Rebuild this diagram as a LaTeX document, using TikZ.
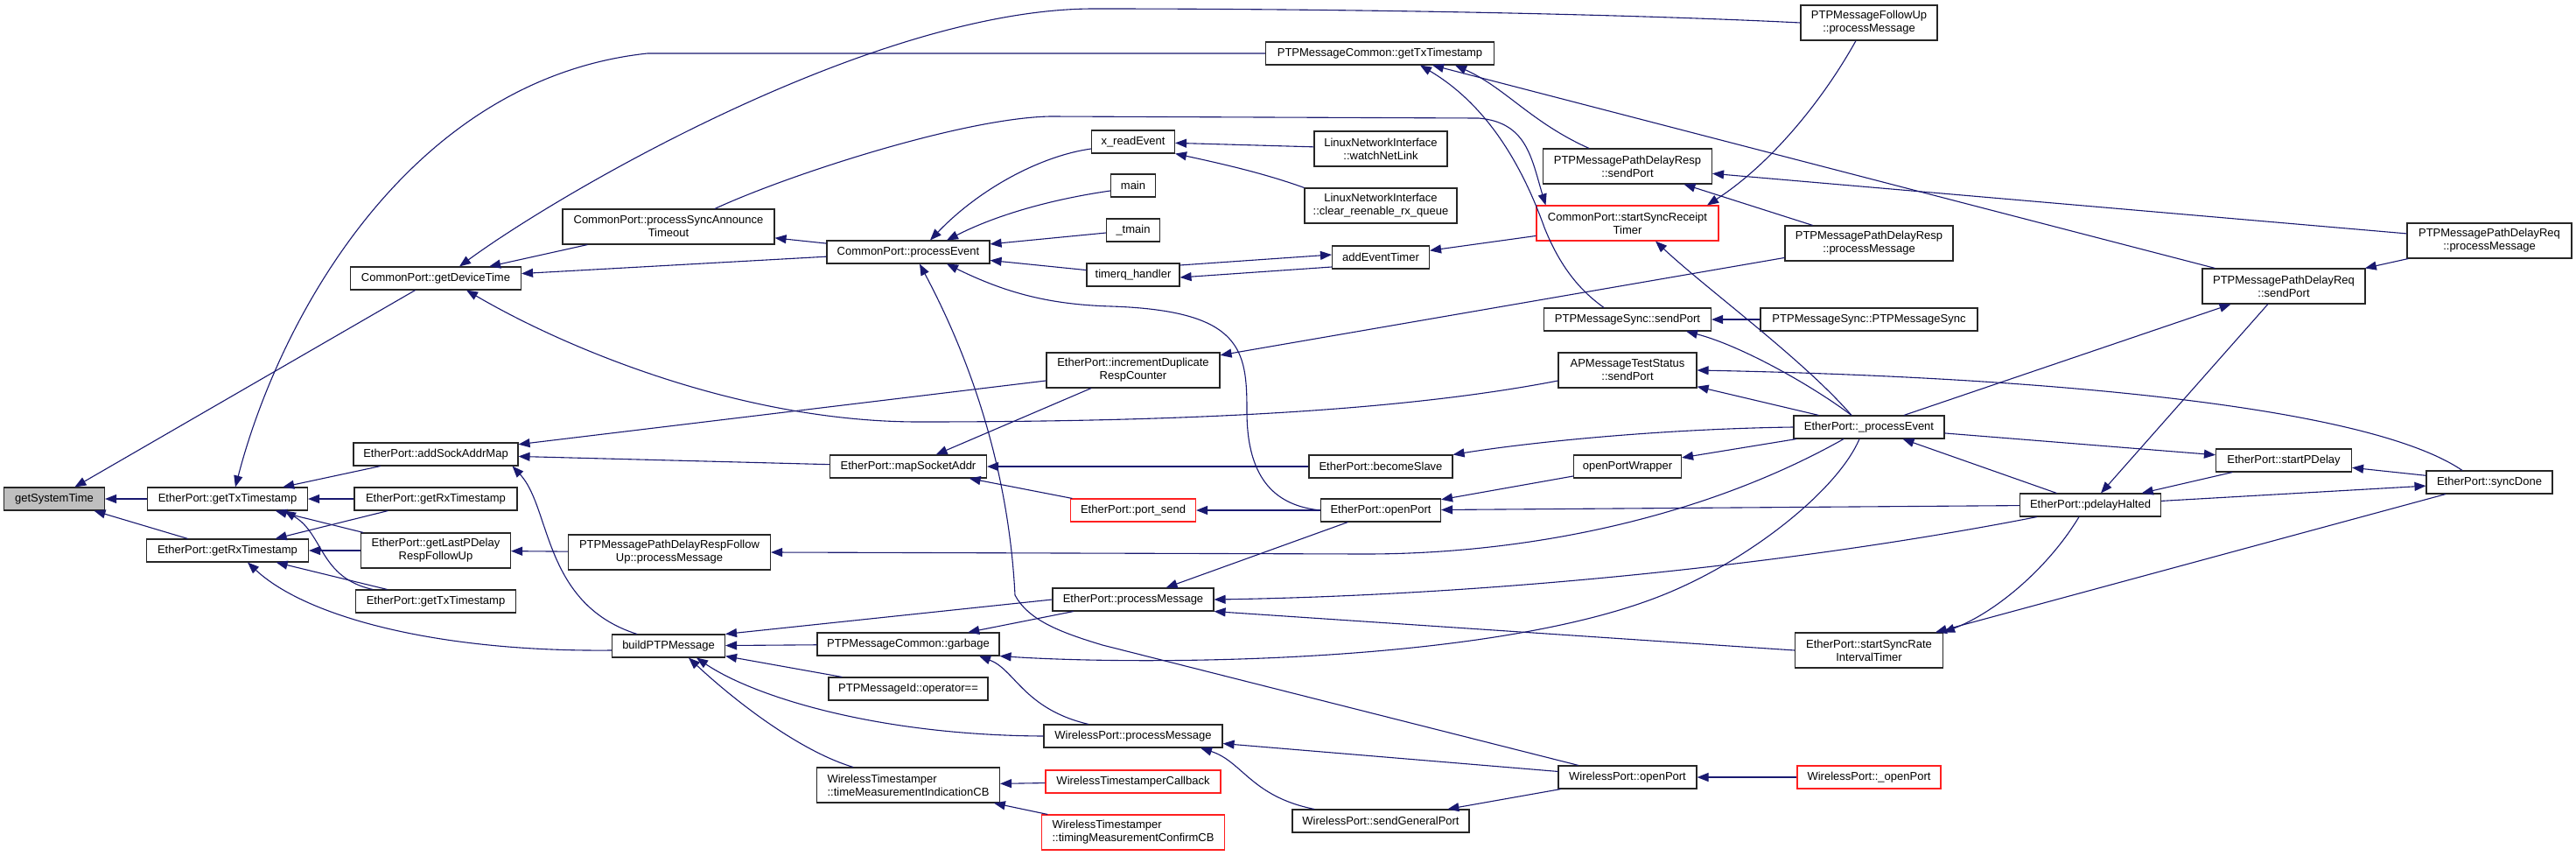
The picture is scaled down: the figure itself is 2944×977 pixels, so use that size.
\documentclass[tikz,border=0pt]{standalone}
\usepackage{fontspec}
\setmainfont{Liberation Sans}
\usetikzlibrary{arrows.meta}
\definecolor{edgec}{HTML}{191970}
\definecolor{redc}{HTML}{FF2020}
\definecolor{grayf}{HTML}{BFBFBF}
\begin{document}
\begin{tikzpicture}[x=1pt,y=-1pt,
  nd/.style={draw=black!85, line width=1.1pt, fill=white, inner sep=0pt, align=center, font=\fontsize{13}{15}\selectfont},
  rd/.style={nd, draw=redc},
  sz/.style 2 args={minimum width=#1pt, minimum height=#2pt},
  e/.style={draw=edgec, line width=1.1pt, {Triangle[length=13pt,width=10pt]}-}
]
\fill[white] (0,0) rectangle (2944,977);
\useasboundingbox (0,0) rectangle (2944,977);

\node[nd,sz={115}{26},fill=grayf] (gst) at (62,570) {getSystemTime};
\node[nd,sz={183}{26}] (eTxL) at (260,570) {EtherPort::getTxTimestamp};
\node[nd,sz={185}{26}] (eRxL) at (260,629) {EtherPort::getRxTimestamp};
\node[nd,sz={195}{26}] (gdt) at (498,318) {CommonPort::getDeviceTime};
\node[nd,sz={188}{26}] (asam) at (498,519) {EtherPort::addSockAddrMap};
\node[nd,sz={186}{26}] (eRxR) at (498,570) {EtherPort::getRxTimestamp};
\node[nd,sz={171}{40}] (glpd) at (498,629) {EtherPort::getLastPDelay\\RespFollowUp};
\node[nd,sz={183}{26}] (eTxB) at (498,687) {EtherPort::getTxTimestamp};
\node[nd,sz={242}{40}] (psat) at (764,259) {CommonPort::processSyncAnnounce\\Timeout};
\node[nd,sz={231}{40}] (pdrfu) at (765,631) {PTPMessagePathDelayRespFollow\\Up::processMessage};
\node[nd,sz={129}{26}] (bpm) at (764,738) {buildPTPMessage};
\node[nd,sz={186}{26}] (cpe) at (1038,288) {CommonPort::processEvent};
\node[nd,sz={179}{26}] (msa) at (1038,533) {EtherPort::mapSocketAddr};
\node[nd,sz={208}{26}] (garb) at (1038,736) {PTPMessageCommon::garbage};
\node[nd,sz={182}{26}] (opeq) at (1038,787) {PTPMessageId::operator==};
\node[nd,sz={209}{40},align=left] (tmic) at (1038,897) {WirelessTimestamper\\::timeMeasurementIndicationCB};
\node[nd,sz={95}{26}] (xre) at (1295,162) {x\_readEvent};
\node[nd,sz={51}{26}] (main) at (1295,212) {main};
\node[nd,sz={61}{26}] (tmain) at (1295,263) {\_tmain};
\node[nd,sz={106}{26}] (tqh) at (1295,314) {timerq\_handler};
\node[nd,sz={198}{40}] (idrc) at (1295,423) {EtherPort::incrementDuplicate\\RespCounter};
\node[rd,sz={143}{26}] (psend) at (1295,583) {EtherPort::port\_send};
\node[nd,sz={184}{26}] (epm) at (1295,685) {EtherPort::processMessage};
\node[nd,sz={204}{26}] (wpm) at (1295,841) {WirelessPort::processMessage};
\node[rd,sz={200}{26}] (wtc) at (1295,893) {WirelessTimestamperCallback};
\node[rd,sz={209}{40},align=left] (tmcc) at (1295,951) {WirelessTimestamper\\::timingMeasurementConfirmCB};
\node[nd,sz={261}{26}] (pcgt) at (1577,61) {PTPMessageCommon::getTxTimestamp};
\node[nd,sz={152}{40}] (lwnl) at (1578,170) {LinuxNetworkInterface\\::watchNetLink};
\node[nd,sz={174}{40}] (lcrr) at (1578,235) {LinuxNetworkInterface\\::clear\_reenable\_rx\_queue};
\node[nd,sz={111}{26}] (aet) at (1578,294) {addEventTimer};
\node[nd,sz={164}{26}] (bslv) at (1578,533) {EtherPort::becomeSlave};
\node[nd,sz={137}{26}] (eop) at (1578,583) {EtherPort::openPort};
\node[nd,sz={202}{26}] (wsgp) at (1578,938) {WirelessPort::sendGeneralPort};
\node[nd,sz={193}{40}] (pdrsp) at (1860,190) {PTPMessagePathDelayResp\\::sendPort};
\node[rd,sz={208}{40}] (ssrt) at (1860,255) {CommonPort::startSyncReceipt\\Timer};
\node[nd,sz={191}{26}] (pss) at (1860,365) {PTPMessageSync::sendPort};
\node[nd,sz={158}{40}] (amts) at (1860,423) {APMessageTestStatus\\::sendPort};
\node[nd,sz={123}{26}] (opw) at (1860,533) {openPortWrapper};
\node[nd,sz={158}{26}] (wop) at (1860,888) {WirelessPort::openPort};
\node[nd,sz={156}{40}] (pfu) at (2136,26) {PTPMessageFollowUp\\::processMessage};
\node[nd,sz={192}{40}] (pdrpm) at (2136,278) {PTPMessagePathDelayResp\\::processMessage};
\node[nd,sz={248}{26}] (psps) at (2136,365) {PTPMessageSync::PTPMessageSync};
\node[nd,sz={172}{26}] (epe) at (2136,488) {EtherPort::\_processEvent};
\node[nd,sz={169}{40}] (ssri) at (2136,743) {EtherPort::startSyncRate\\IntervalTimer};
\node[rd,sz={164}{26}] (wop2) at (2136,888) {WirelessPort::\_openPort};
\node[nd,sz={161}{26}] (pdh) at (2389,577) {EtherPort::pdelayHalted};
\node[nd,sz={155}{26}] (spd) at (2610,526) {EtherPort::startPDelay};
\node[nd,sz={186}{40}] (pdqs) at (2610,327) {PTPMessagePathDelayReq\\::sendPort};
\node[nd,sz={144}{26}] (sdn) at (2845,551) {EtherPort::syncDone};
\node[nd,sz={188}{40}] (pdqp) at (2845,275) {PTPMessagePathDelayReq\\::processMessage};

% edges (arrow at callee = first point)
\draw[e] (gst) -- (eTxL);
\draw[e] (gst) -- (gdt);
\draw[e] (gst) -- (eRxL);
\draw[e] ([xshift=9pt]eTxL.north) .. controls (320,360) and (470,90) .. (740,61) -- (pcgt.west);
\draw[e] ([xshift=27pt]gdt.north) .. controls (640,220) and (1000,10) .. (1250,10) .. controls (1600,10) and (1900,18) .. (pfu.west);
\draw[e] (gdt) -- (psat);
\draw[e] (gdt) -- (cpe);
\draw[e] ([xshift=35pt]gdt.south) .. controls (650,400) and (850,482) .. (1050,482) .. controls (1350,482) and (1600,470) .. ([yshift=-12pt]amts.west);
\draw[e] (asam) -- (idrc);
\draw[e] (asam) -- (msa);
\draw[e] ([xshift=-7pt]asam.south east) .. controls (630,580) and (620,690) .. ([xshift=29pt]bpm.north west);
\draw[e] (eTxL) -- (eRxR);
\draw[e] (eTxL) -- (asam);
\draw[e] (eTxL) -- (glpd);
\draw[e] ([xshift=65pt]eTxL.south) .. controls (370,610) and (365,660) .. ([xshift=20pt]eTxB.north west);
\draw[e] (eRxL) -- (eRxR);
\draw[e] (eRxL) -- (glpd);
\draw[e] ([xshift=23pt]eRxL.south) .. controls (350,705) and (500,745) .. ([yshift=-5pt]bpm.west);
\draw[e] (eRxL) -- (eTxB);
\draw[e] (glpd) -- (pdrfu);
\draw[e] (psat) -- (cpe);
\draw[e] ([xshift=11pt]ssrt.north west) .. controls (1750,180) and (1745,140) .. (1690,135) -- (1200,133) .. controls (1100,135) and (900,200) .. ([xshift=53pt]psat.north);
\draw[e] ([xshift=25pt]cpe.north) .. controls (1120,215) and (1190,178) .. ([yshift=-8pt]xre.west);
\draw[e] ([xshift=44pt]cpe.north) .. controls (1150,240) and (1220,225) .. ([yshift=-6pt]main.west);
\draw[e] (cpe) -- (tmain);
\draw[e] (cpe) -- (tqh);
\draw[e] ([xshift=13pt]cpe.south) .. controls (1130,450) and (1155,580) .. (1160,680) .. controls (1175,708) and (1210,722) .. (1260,737) -- ([xshift=-56pt]wop.north);
\draw[e] ([xshift=44pt]cpe.south) .. controls (1150,335) and (1200,348) .. (1270,350) .. controls (1420,355) and (1425,400) .. (1425,470) .. controls (1425,550) and (1460,578) .. (eop.west);
\draw[e] (xre) -- (lwnl);
\draw[e] (xre.south east) .. controls (1410,190) and (1450,200) .. (lcrr.north west);
\draw[e] ([yshift=-3pt]tqh.east) -- ([yshift=-11pt]aet.west);
\draw[e] ([yshift=3pt]aet.west) -- ([yshift=11pt]tqh.east);
\draw[e] (aet) -- (ssrt);
\draw[e] (idrc) -- (pdrpm);
\draw[e] (msa) -- (idrc);
\draw[e] (msa) -- (bslv);
\draw[e] (msa) -- (psend);
\draw[e] (psend) -- (eop);
\draw[e] (pdrfu.east) -- (1560,633) .. controls (1750,633) and (1950,590) .. ([xshift=-29pt]epe.south);
\draw[e] (bpm.north east) -- (epm.west);
\draw[e] (bpm) -- (garb);
\draw[e] (bpm) -- (opeq);
\draw[e] ([xshift=32pt]bpm.south) .. controls (860,795) and (1000,840) .. (wpm.west);
\draw[e] ([xshift=23pt]bpm.south) .. controls (850,810) and (920,860) .. ([xshift=-63pt]tmic.north);
\draw[e] (garb) -- (epm);
\draw[e] ([xshift=81pt]garb.south) .. controls (1160,765) and (1170,810) .. ([xshift=-51pt]wpm.north);
\draw[e] (garb.south east) .. controls (1300,760) and (1700,760) .. (1900,680) .. controls (2000,640) and (2100,560) .. ([xshift=-11pt]epe.south);
\draw[e] (epm) -- (eop);
\draw[e] (epm.east) .. controls (1700,680) and (2050,645) .. ([xshift=20pt]pdh.south west);
\draw[e] (epm.south east) -- (ssri.west);
\draw[e] (tmic) -- (wtc);
\draw[e] (tmic) -- (tmcc);
\draw[e] (wpm) -- (wop);
\draw[e] ([xshift=77pt]wpm.south) .. controls (1420,870) and (1430,910) .. ([xshift=-76pt]wsgp.north);
\draw[e] (wsgp) -- (wop);
\draw[e] (wop) -- (wop2);
\draw[e] ([xshift=46pt]pcgt.south) .. controls (1700,120) and (1740,190) .. (1765,260) .. controls (1785,310) and (1810,335) .. ([xshift=-27pt]pss.north);
\draw[e] ([xshift=60pt]pcgt.south) -- ([xshift=15pt]pdqs.north west);
\draw[e] ([xshift=86pt]pcgt.south) .. controls (1720,100) and (1750,140) .. ([xshift=-44pt]pdrsp.north);
\draw[e] (pdrsp) -- (pdqp);
\draw[e] (pdrsp) -- (pdrpm);
\draw[e] ([xshift=91pt]ssrt.north) .. controls (2020,190) and (2080,120) .. ([xshift=-15pt]pfu.south);
\draw[e] ([xshift=32pt]ssrt.south) .. controls (1950,330) and (2060,410) .. ([xshift=-20pt]epe.north);
\draw[e] (pss) -- (psps);
\draw[e] ([xshift=67pt]pss.south) .. controls (1990,395) and (2070,440) .. ([xshift=-20pt]epe.north);
\draw[e] (amts.east) .. controls (2300,430) and (2700,460) .. ([xshift=-31pt]sdn.north);
\draw[e] (amts) -- (epe);
\draw[e] (bslv.north east) .. controls (1750,505) and (1900,490) .. (epe.west);
\draw[e] (opw) -- (epe);
\draw[e] (eop) -- (opw);
\draw[e] (eop) -- (pdh);
\draw[e] (pdqs) -- (epe);
\draw[e] (epe) -- (pdh);
\draw[e] (spd) -- (epe);
\draw[e] (pdh) -- (pdqs);
\draw[e] (spd) -- (sdn);
\draw[e] (pdh) -- (spd);
\draw[e] (sdn) -- (pdh);
\draw[e] (ssri.north east) .. controls (2280,700) and (2340,650) .. ([xshift=-13pt]pdh.south);
\draw[e] (ssri) -- (sdn);
\draw[e] (pdqs) -- (pdqp);
\end{tikzpicture}
\end{document}
